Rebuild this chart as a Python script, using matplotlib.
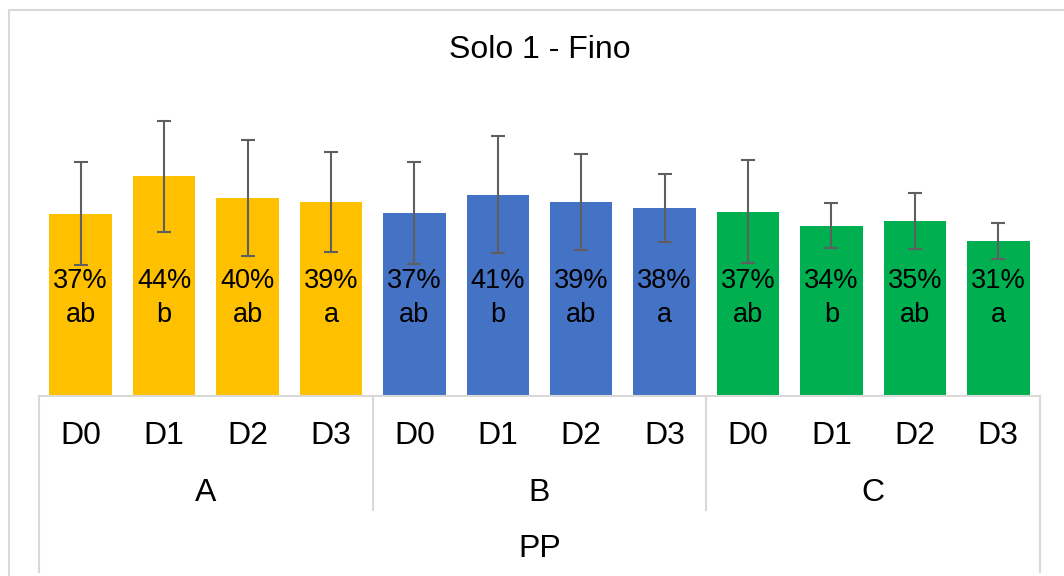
import matplotlib.pyplot as plt
from matplotlib.patches import Rectangle

plt.rcParams['font.family'] = ['Liberation Sans', 'DejaVu Sans']

doses = ["D0", "D1", "D2", "D3"]
groups = ["A", "B", "C"]
outer = "PP"
colors = ["#FFC000", "#4472C4", "#00B050"]

means = [0.368, 0.444, 0.400, 0.392,
         0.370, 0.407, 0.392, 0.380,
         0.372, 0.344, 0.353, 0.313]
errors = [0.104, 0.112, 0.118, 0.101,
          0.103, 0.119, 0.097, 0.069,
          0.104, 0.045, 0.057, 0.036]
letters = ["ab", "b", "ab", "a",
           "ab", "b", "ab", "a",
           "ab", "b", "ab", "a"]

W, H = 1064, 576
fig = plt.figure(figsize=(W / 100, H / 100), dpi=100)

# axes placed in pixels: baseline at y=396, x from 39 to 1040
ax_left, ax_right, ax_base, ax_top = 39, 1040, 396, 99
ax = fig.add_axes([ax_left / W, (H - ax_base) / H,
                   (ax_right - ax_left) / W, (ax_base - ax_top) / H])

n = len(means)
x = list(range(n))
bar_colors = [colors[i // len(doses)] for i in range(n)]

ax.bar(x, means, width=0.75, color=bar_colors, zorder=2)
ax.errorbar(x, means, yerr=errors, fmt="none", ecolor="#5f5f5f",
            elinewidth=1.5, capsize=5, capthick=1.5, zorder=3)

for xi, m, l in zip(x, means, letters):
    ax.text(xi, 0.198, f"{m:.0%}\n{l}", ha="center", va="center",
            fontsize=19.5, color="black", linespacing=1.4, zorder=4)

ax.set_xlim(-0.5, n - 0.5)
ax.set_ylim(0, 0.6)
ax.set_xticks([])
ax.set_yticks([])
for s in ["left", "right", "top"]:
    ax.spines[s].set_visible(False)
ax.spines["bottom"].set_color("#d9d9d9")
ax.spines["bottom"].set_linewidth(1.5)

# multi-level category axis
px = 1.0 / (ax_base - ax_top)
trans = ax.get_xaxis_transform()
line_kw = dict(color="#d9d9d9", lw=1.5, transform=trans, clip_on=False)

for i in range(n):
    ax.text(i, -(436 - ax_base) * px, doses[i % len(doses)], transform=trans,
            ha="center", va="center", fontsize=23)

for g, name in enumerate(groups):
    c = g * len(doses) + (len(doses) - 1) / 2
    ax.text(c, -(493 - ax_base) * px, name, transform=trans,
            ha="center", va="center", fontsize=23)

for g in range(1, len(groups)):
    xs = g * len(doses) - 0.5
    ax.plot([xs, xs], [0, -(510 - ax_base) * px], **line_kw)

ax.plot([-0.5, -0.5], [0, -(572 - ax_base) * px], **line_kw)
ax.plot([n - 0.5, n - 0.5], [0, -(572 - ax_base) * px], **line_kw)

ax.text((n - 1) / 2, -(549 - ax_base) * px, outer, transform=trans,
        ha="center", va="center", fontsize=23)

fig.text((ax_left + ax_right) / 2 / W, 1 - 50 / H, "Solo 1 - Fino",
         ha="center", va="center", fontsize=23)

# outer chart border
fig.patches.append(Rectangle((9 / W, -0.1), 1.2, 1 - 9.5 / H + 0.1,
                             transform=fig.transFigure, fill=False,
                             edgecolor="#d9d9d9", lw=1.5))

fig.savefig("out.png", dpi=100)
